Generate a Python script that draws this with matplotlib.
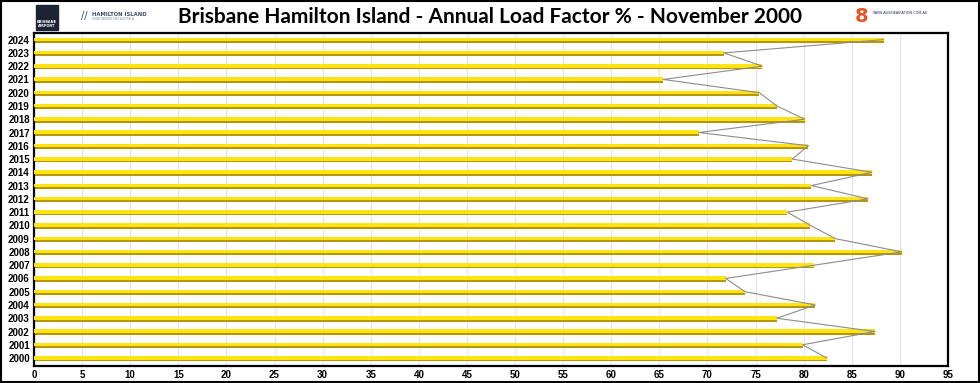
import matplotlib
matplotlib.use("Agg")
import matplotlib.pyplot as plt
from matplotlib.patches import Rectangle
import numpy as np

# Annual load factor % (November)
years = [2000, 2001, 2002, 2003, 2004, 2005, 2006, 2007, 2008, 2009, 2010, 2011, 2012,
         2013, 2014, 2015, 2016, 2017, 2018, 2019, 2020, 2021, 2022, 2023, 2024]
load_factor = [82.4, 79.9, 87.4, 77.2, 81.2, 73.9, 71.9, 81.1, 90.2, 83.3, 80.7, 78.3, 86.7,
               80.8, 87.1, 78.8, 80.5, 69.1, 80.1, 77.2, 75.4, 65.4, 75.7, 71.7, 88.3]
x_ticks = list(range(0, 100, 5))
title = "Brisbane Hamilton Island - Annual Load Factor % - November 2000"

fig = plt.figure(figsize=(9.8, 3.83), dpi=100)
ax = fig.add_axes([34 / 980, 1 - 366 / 383, 914 / 980, 333 / 383])

ypos = np.arange(len(years))
# bar with darker edge to fake the 3d look
ax.barh(ypos - 0.06, load_factor, height=0.38, color="#b8960a", zorder=2)
ax.barh(ypos + 0.02, load_factor, height=0.27, color="#ffe414", zorder=3)
ax.plot(load_factor, ypos, color="#8c8c8c", lw=0.8, zorder=4)

ax.set_xlim(0, 95)
ax.set_ylim(-0.6, len(years) - 0.5)
ax.set_xticks(x_ticks)
ax.set_xticklabels([str(t) for t in x_ticks], fontsize=7, fontweight="bold",
                   family="Liberation Sans")
ax.set_yticks(ypos)
ax.set_yticklabels([str(y) for y in years], fontsize=7, fontweight="bold",
                   family="Liberation Sans")
ax.tick_params(length=0, pad=3)
ax.grid(axis="x", color="#e3e3e3", lw=0.8, zorder=0)
for s in ax.spines.values():
    s.set_linewidth(1.6)
    s.set_color("black")

fig.text(490 / 980, 1 - 17 / 383, title, ha="center", va="center", fontsize=15,
         fontweight="bold", family="Lato")

# logos (approximated)
fig.patches.append(Rectangle((36 / 980, 1 - 30 / 383), 22 / 980, 25 / 383,
                             transform=fig.transFigure, color="#1c2333"))
fig.text(47 / 980, 1 - 24 / 383, "BRISBANE\nAIRPORT", ha="center", va="center",
         fontsize=2.5, color="white", fontweight="bold")
fig.text(84 / 980, 1 - 16 / 383, "//", ha="center", va="center", fontsize=7,
         color="#3a4a6a")
fig.text(92 / 980, 1 - 14 / 383, "HAMILTON ISLAND", ha="left", va="center",
         fontsize=3.8, color="#3a4a6a", fontweight="bold")
fig.text(92 / 980, 1 - 19 / 383, "GREAT BARRIER REEF AUSTRALIA", ha="left", va="center",
         fontsize=1.8, color="#7a8aa0")
fig.text(862 / 980, 1 - 16 / 383, "8", ha="center", va="center", fontsize=14,
         color="#e8542a", fontweight="bold")
fig.text(873 / 980, 1 - 13 / 383, "WWW.AUSSIEAVIATION.COM.AU", ha="left", va="center",
         fontsize=2.5, color="#2a2a6a")

# outer border
fig.patches.append(Rectangle((0.001, 0.002), 0.998, 0.996, transform=fig.transFigure,
                             fill=False, edgecolor="black", lw=1.5))

fig.savefig("out.png", dpi=100)
